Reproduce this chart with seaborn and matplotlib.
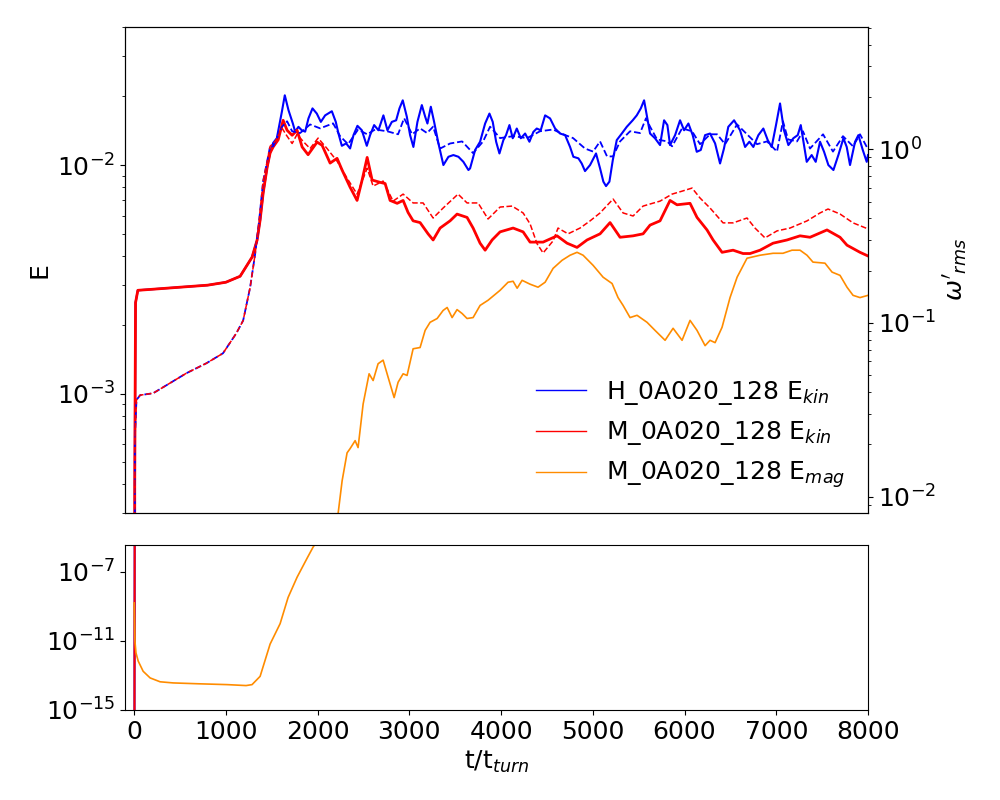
import numpy as np
import matplotlib
matplotlib.use("Agg")
import matplotlib.pyplot as plt
import matplotlib.ticker as mticker
import seaborn as sns

# shared start of both runs (identical until the field matters)
t_early = [0, 6, 15, 40, 200, 500, 800, 1000, 1155, 1285, 1340, 1373, 1406, 1450, 1482]
ekin_early = [1e-30, 4e-4, 2.5e-3, 2.83e-3, 2.86e-3, 2.92e-3, 2.98e-3, 3.07e-3, 3.26e-3,
              3.95e-3, 4.69e-3, 5.74e-3, 7.53e-3, 9.8e-3, 1.13e-2]
t_early_w = [0, 8, 25, 65, 207, 352, 570, 787, 968, 1113, 1188, 1264, 1319, 1362, 1406, 1450, 1482]
w_early = [1e-30, 0.0221, 0.036, 0.0384, 0.0394, 0.0438, 0.0514, 0.0586, 0.0669, 0.0871,
           0.1033, 0.160, 0.250, 0.387, 0.656, 0.854, 1.04]

# H_0A020_128 kinetic energy
t_H_kin = [1515, 1555, 1610, 1642, 1682, 1730, 1755, 1791, 1827, 1864, 1900, 1944, 1991, 2035,
           2082, 2155, 2198, 2227, 2264, 2311, 2354, 2391, 2434, 2482, 2536, 2572, 2616, 2663,
           2717, 2761, 2809, 2856, 2892, 2928, 2972, 3008, 3044, 3088, 3136, 3172, 3197, 3234,
           3270, 3317, 3371, 3426, 3480, 3535, 3589, 3644, 3662, 3717, 3771, 3826, 3873, 3909,
           3946, 3982, 4025, 4054, 4091, 4127, 4171, 4215, 4262, 4309, 4352, 4389, 4432, 4480,
           4534, 4589, 4643, 4698, 4752, 4788, 4843, 4879, 4915, 4970, 5035, 5079, 5115, 5144,
           5181, 5218, 5261, 5316, 5370, 5435, 5479, 5523, 5559, 5588, 5624, 5678, 5733, 5777,
           5813, 5842, 5897, 5951, 5995, 6042, 6089, 6133, 6177, 6224, 6278, 6333, 6387, 6430,
           6477, 6540, 6605, 6660, 6707, 6750, 6805, 6859, 6907, 6950, 6997, 7041, 7084, 7132,
           7186, 7234, 7267, 7303, 7332, 7386, 7430, 7477, 7521, 7568, 7623, 7677, 7732, 7768,
           7804, 7859, 7895, 7943, 7986, 8000]
E_H_kin = [0.0125, 0.0131, 0.0171, 0.0202, 0.0174, 0.0152, 0.0140, 0.0147, 0.0142, 0.0140,
           0.0160, 0.0177, 0.0168, 0.01545, 0.0165, 0.0172, 0.01545, 0.01374, 0.01214, 0.01244,
           0.01182, 0.01352, 0.01485, 0.0142, 0.01214, 0.01352, 0.01496, 0.0142, 0.0165, 0.0142,
           0.01545, 0.0157, 0.0177, 0.0192, 0.0163, 0.01352, 0.0120, 0.01545, 0.0183, 0.0163,
           0.0152, 0.0180, 0.01545, 0.01244, 0.0100, 0.01087, 0.01106, 0.01087, 0.01033, 0.00951,
           0.00967, 0.01164, 0.01265, 0.0152, 0.0168, 0.01545, 0.01265, 0.01124, 0.01286, 0.01352,
           0.01496, 0.0131, 0.01445, 0.0131, 0.01374, 0.01265, 0.01397, 0.01445, 0.0142, 0.0165,
           0.0160, 0.01445, 0.01374, 0.01352, 0.0120, 0.01087, 0.0107, 0.01016, 0.00941, 0.0100,
           0.01124, 0.00967, 0.00846, 0.00809, 0.00846, 0.01052, 0.01286, 0.01374, 0.0147, 0.0157,
           0.0165, 0.0177, 0.0192, 0.0165, 0.01374, 0.0131, 0.01223, 0.0157, 0.01496, 0.01223,
           0.01352, 0.0157, 0.0142, 0.0152, 0.01352, 0.01143, 0.01164, 0.01352, 0.01374, 0.01244,
           0.01016, 0.01182, 0.0147, 0.0157, 0.0142, 0.0120, 0.01265, 0.0120, 0.01352, 0.01445,
           0.01286, 0.0120, 0.01496, 0.0186, 0.0142, 0.01223, 0.0131, 0.01352, 0.01496, 0.01223,
           0.01033, 0.01106, 0.01033, 0.01265, 0.01143, 0.0100, 0.00951, 0.01106, 0.0131, 0.0120,
           0.0100, 0.01265, 0.01352, 0.01164, 0.01033, 0.01106]

# M_0A020_128 kinetic energy
t_M_kin = [1515, 1570, 1624, 1667, 1722, 1776, 1831, 1896, 1994, 2049, 2136, 2212, 2267, 2354,
           2430, 2485, 2540, 2594, 2681, 2736, 2790, 2867, 2932, 2986, 3041, 3117, 3204, 3259,
           3335, 3444, 3520, 3629, 3695, 3771, 3826, 3902, 3989, 4131, 4240, 4316, 4458, 4610,
           4719, 4828, 4937, 5079, 5188, 5297, 5439, 5548, 5624, 5733, 5842, 5918, 6060, 6136,
           6245, 6311, 6409, 6529, 6638, 6714, 6823, 6965, 7117, 7259, 7368, 7553, 7695, 7771,
           7913, 8000]
E_M_kin = [0.0120, 0.0129, 0.0157, 0.0142, 0.0135, 0.0142, 0.0120, 0.0111, 0.0126, 0.0122,
           0.0102, 0.0107, 0.0095, 0.0080, 0.0070, 0.0086, 0.0108, 0.0086, 0.0084, 0.0083,
           0.0070, 0.0068, 0.0070, 0.0062, 0.0057, 0.0056, 0.0050, 0.0047, 0.0053, 0.0057,
           0.0061, 0.0059, 0.0053, 0.00455, 0.00424, 0.0047, 0.0051, 0.0053, 0.0051, 0.0046,
           0.0046, 0.0049, 0.00455, 0.00436, 0.0047, 0.0050, 0.0056, 0.00483, 0.0049, 0.0050,
           0.00546, 0.0057, 0.0070, 0.0067, 0.0068, 0.0059, 0.0052, 0.0047, 0.00415, 0.00424,
           0.0041, 0.0041, 0.00424, 0.00455, 0.0047, 0.0049, 0.00483, 0.0052, 0.00483, 0.00446,
           0.00415, 0.0040]

# M_0A020_128 magnetic energy
t_M_mag = [0, 8, 20, 44, 98, 174, 283, 425, 700, 1014, 1220, 1285, 1373, 1482, 1591, 1678, 1776,
           1886, 1951, 2223, 2267, 2321, 2354, 2409, 2441, 2496, 2561, 2605, 2659, 2714, 2768,
           2834, 2877, 2932, 2975, 3041, 3117, 3172, 3226, 3303, 3368, 3412, 3466, 3520, 3575,
           3629, 3695, 3771, 3858, 3989, 4076, 4131, 4175, 4229, 4316, 4403, 4480, 4567, 4665,
           4752, 4828, 4894, 5003, 5112, 5210, 5275, 5330, 5406, 5482, 5591, 5678, 5788, 5875,
           5973, 6060, 6136, 6224, 6278, 6333, 6409, 6496, 6573, 6681, 6823, 6965, 7073, 7171,
           7259, 7335, 7400, 7531, 7608, 7695, 7771, 7837, 7913, 8000]
E_M_mag = [1.6e-9, 1e-11, 2e-12, 6.8e-13, 1.74e-13, 7.2e-14, 4.3e-14, 3.7e-14, 3.3e-14,
           2.95e-14, 2.6e-14, 2.95e-14, 8.9e-14, 6.6e-12, 1.0e-10, 3.3e-9, 4.9e-8, 6.3e-7,
           2.75e-6,
           2.98e-4, 4.15e-4, 5.5e-4, 5.74e-4, 6.22e-4, 5.8e-4, 9.0e-4, 1.22e-3, 1.14e-3,
           1.35e-3, 1.40e-3, 1.18e-3, 9.6e-4, 1.12e-3, 1.22e-3, 1.20e-3, 1.57e-3, 1.59e-3,
           1.89e-3, 2.05e-3, 2.13e-3, 2.31e-3, 2.38e-3, 2.15e-3, 2.33e-3, 2.24e-3, 2.13e-3,
           2.15e-3, 2.43e-3, 2.56e-3, 2.83e-3, 3.07e-3, 3.10e-3, 2.89e-3, 3.13e-3, 3.01e-3,
           2.92e-3, 3.07e-3, 3.53e-3, 3.83e-3, 4.03e-3, 4.15e-3, 4.03e-3, 3.64e-3, 3.23e-3,
           3.03e-3, 2.63e-3, 2.43e-3, 2.15e-3, 2.20e-3, 2.05e-3, 1.89e-3, 1.71e-3, 1.93e-3,
           1.71e-3, 2.09e-3, 1.89e-3, 1.62e-3, 1.71e-3, 1.67e-3, 1.95e-3, 2.63e-3, 3.23e-3,
           3.91e-3, 4.03e-3, 4.11e-3, 4.11e-3, 4.24e-3, 4.24e-3, 4.03e-3, 3.76e-3, 3.72e-3,
           3.40e-3, 3.29e-3, 2.92e-3, 2.69e-3, 2.63e-3, 2.69e-3]

# omega'_rms (dashed, right axis)
t_H_w = [1515, 1613, 1667, 1722, 1809, 1918, 2027, 2169, 2245, 2332, 2441, 2540, 2627, 2758,
         2877, 2943, 3030, 3117, 3193, 3259, 3335, 3444, 3575, 3695, 3804, 3880, 3989, 4131,
         4283, 4425, 4567, 4676, 4785, 4915, 5003, 5079, 5155, 5221, 5297, 5406, 5515, 5580,
         5624, 5700, 5810, 5864, 5973, 6082, 6169, 6278, 6355, 6442, 6573, 6681, 6790, 6899,
         7008, 7073, 7128, 7226, 7291, 7368, 7510, 7618, 7727, 7837, 7913, 8000]
w_H = [1.04, 1.35, 1.45, 1.27, 1.24, 1.39, 1.32, 1.41, 1.19, 1.07, 1.30, 1.22, 1.30, 1.27,
       1.22, 1.51, 1.22, 1.32, 1.24, 1.35, 1.01, 1.08, 1.11, 0.95, 1.11, 1.35, 1.16, 1.19,
       1.16, 1.27, 1.30, 1.22, 1.16, 1.01, 0.97, 1.11, 0.91, 0.91, 1.11, 1.27, 1.24, 1.51,
       1.35, 1.14, 1.11, 1.04, 1.32, 1.27, 1.07, 1.22, 1.22, 1.07, 1.39, 1.22, 1.07, 1.11,
       0.97, 1.45, 1.14, 1.11, 1.27, 1.01, 1.22, 0.97, 1.19, 1.04, 1.22, 1.0]
t_M_w = [1537, 1613, 1667, 1722, 1776, 1842, 1918, 2005, 2103, 2212, 2321, 2430, 2540, 2605,
         2714, 2823, 2932, 3041, 3150, 3259, 3368, 3531, 3629, 3749, 3858, 3989, 4120, 4240,
         4316, 4392, 4458, 4567, 4621, 4730, 4861, 4970, 5079, 5221, 5330, 5439, 5548, 5624,
         5733, 5864, 5973, 6082, 6169, 6278, 6420, 6529, 6681, 6768, 6877, 7008, 7150, 7335,
         7477, 7564, 7695, 7837, 8000]
w_M = [1.11, 1.32, 1.19, 1.08, 1.22, 1.11, 1.01, 1.16, 1.01, 0.854, 0.682, 0.552, 0.778,
       0.614, 0.656, 0.503, 0.552, 0.491, 0.491, 0.402, 0.459, 0.552, 0.491, 0.491, 0.397,
       0.465, 0.471, 0.430, 0.372, 0.286, 0.253, 0.297, 0.352, 0.326, 0.352, 0.387, 0.430,
       0.517, 0.430, 0.413, 0.471, 0.484, 0.503, 0.552, 0.574, 0.598, 0.524, 0.459, 0.377,
       0.377, 0.402, 0.352, 0.309, 0.339, 0.352, 0.387, 0.430, 0.453, 0.424, 0.377, 0.348]

labels = ["H_0A020_128 E$_{kin}$", "M_0A020_128 E$_{kin}$", "M_0A020_128 E$_{mag}$"]
colors = ["blue", "red", "darkorange"]

tH = np.array(t_early + t_H_kin)
eH = np.array(ekin_early + E_H_kin)
tM = np.array(t_early + t_M_kin)
eM = np.array(ekin_early + E_M_kin)
twH = np.array(t_early_w + t_H_w)
wH = np.array(w_early + w_H)
twM = np.array(t_early_w + t_M_w)
wM = np.array(w_early + w_M)

plt.rcParams["font.size"] = 18
fig = plt.figure(figsize=(10, 8), dpi=100)
ax1 = fig.add_axes([0.125, 0.35875, 0.743, 0.6075])
ax3 = fig.add_axes([0.125, 0.1125, 0.743, 0.20625])
ax2 = ax1.twinx()

for ax in (ax1, ax2, ax3):
    ax.set_yscale("log")

# top panel: energies on the left, omega'_rms dashed on the right
sns.lineplot(x=tH, y=eH, ax=ax1, color=colors[0], lw=1.5, label=labels[0], estimator=None)
sns.lineplot(x=tM, y=eM, ax=ax1, color=colors[1], lw=2.0, label=labels[1], estimator=None)
sns.lineplot(x=t_M_mag, y=E_M_mag, ax=ax1, color=colors[2], lw=1.2, label=labels[2], estimator=None)
sns.lineplot(x=twH, y=wH, ax=ax2, color=colors[0], lw=1.3, linestyle="--", estimator=None)
sns.lineplot(x=twM, y=wM, ax=ax2, color=colors[1], lw=1.1, linestyle="--", estimator=None)

ax1.set_xlim(-100, 8000)
ax1.set_ylim(3.0e-4, 0.0402)
ax2.set_ylim(8.05e-3, 5.06)
ax1.tick_params(axis="x", bottom=False, labelbottom=False)
ax1.set_ylabel("E")
ax2.set_ylabel(r"$\omega'_{rms}$")
ax1.set_xlabel("")

leg = ax1.legend(loc="lower right", frameon=False, fontsize=18)
for h in leg.get_lines():
    h.set_linewidth(1.0)

# bottom panel: the small values
sns.lineplot(x=tH, y=eH, ax=ax3, color=colors[0], lw=1.5, estimator=None)
sns.lineplot(x=tM, y=eM, ax=ax3, color=colors[1], lw=1.5, estimator=None)
sns.lineplot(x=t_M_mag, y=E_M_mag, ax=ax3, color=colors[2], lw=1.2, estimator=None)
ax3.set_xlim(-100, 8000)
ax3.set_ylim(1e-15, 3.6e-6)
ax3.set_yticks([1e-15, 1e-11, 1e-7])
ax3.yaxis.set_minor_locator(mticker.NullLocator())
ax3.set_xticks(np.arange(0, 8001, 1000))
ax3.set_xlabel("t/t$_{turn}$")
ax3.set_ylabel("")

fig.savefig("out.png", dpi=100)
